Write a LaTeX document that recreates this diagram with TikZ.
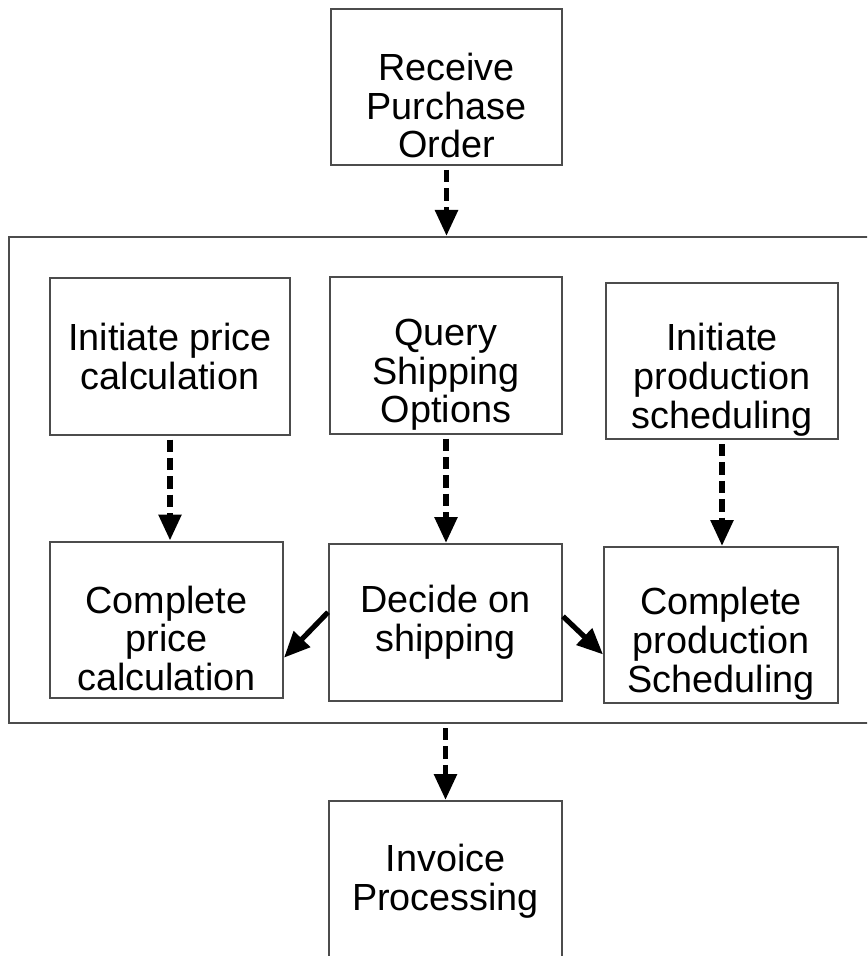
\documentclass[tikz,border=0pt]{standalone}
\usepackage{fontspec}
\setmainfont{Liberation Sans}
\usetikzlibrary{arrows.meta}

% three lines of text start as high as two do
\newcommand{\toppad}{\rule{0pt}{32.5pt}}

\tikzset{
  task/.style={draw=black!70, line width=1pt, fill=white, align=center, inner sep=0pt,
    minimum width=116pt, minimum height=78pt,
    font=\fontsize{18.9}{19.3}\selectfont},
  flow/.style={line width=2.8pt, dash pattern=on 6.2pt off 3pt, shorten <=2pt,
    -{Triangle[width=11pt,length=13pt]}},
  pick/.style={line width=2.6pt, -{Triangle[width=11pt,length=13pt]}}
}

\begin{document}
\begin{tikzpicture}[x=0.5pt,y=-0.5pt]
  \clip (0,0) rectangle (867,956);
  \fill[white] (0,0) rectangle (867,956);

  % frame round the steps that run side by side
  \node[draw=black!70, line width=1pt, minimum width=440pt, minimum height=243pt,
    inner sep=0pt] (phase) at (449,480) {};

  \node[task, minimum width=115.5pt] (recv) at (446.5,87) {\toppad Receive\\Purchase\\Order};

  \node[task, minimum width=120pt] (initprice) at (170,356.5) {Initiate price\\calculation};
  \node[task] (query) at (446,355.5) {\toppad Query\\Shipping\\Options};
  \node[task] (initprod) at (722,361) {\toppad Initiate\\production\\scheduling};

  \node[task, minimum width=116.5pt] (doneprice) at (166.5,619.5) {\toppad Complete\\price\\calculation};
  \node[task, minimum width=116.5pt, minimum height=78.5pt] (decide) at (445.5,622.5) {Decide on\\shipping};
  \node[task, minimum width=117pt] (doneprod) at (721,625) {\toppad Complete\\production\\Scheduling};

  \node[task, minimum width=116.5pt, minimum height=80pt] (invoice) at (445.5,881) {Invoice\\Processing};

  % dashed hand-overs
  \draw[flow] (recv.south) -- (recv.south |- phase.north);
  \draw[flow] (initprice.south) -- (initprice.south |- doneprice.north);
  \draw[flow] (query.south) -- (query.south |- decide.north);
  \draw[flow] (initprod.south) -- (initprod.south |- doneprod.north);
  \draw[flow] (invoice.north |- phase.south) -- (invoice.north);

  % shipping decision feeds both sides
  \draw[pick] (decide.175) -- (doneprice.-18);
  \draw[pick] (decide.3) -- (doneprod.194);
\end{tikzpicture}
\end{document}
